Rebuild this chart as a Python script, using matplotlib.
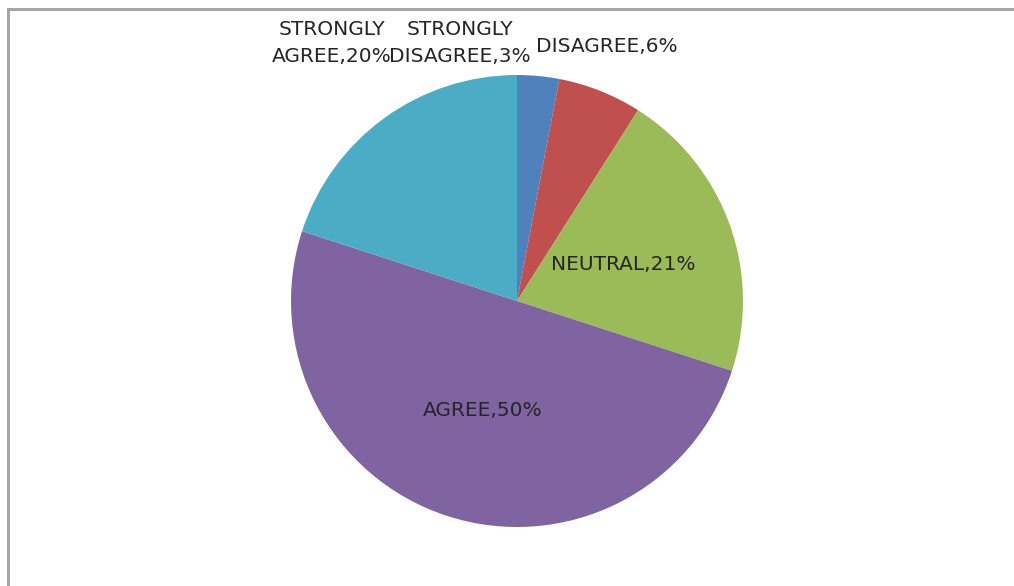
import matplotlib
matplotlib.use("Agg")
import matplotlib.pyplot as plt
from matplotlib.patches import Rectangle

# Survey responses
categories = ["STRONGLY DISAGREE", "DISAGREE", "NEUTRAL", "AGREE", "STRONGLY AGREE"]
shares = [3, 6, 21, 50, 20]
colors = ["#4F81BD", "#C0504D", "#9BBB59", "#8064A2", "#4BACC6"]

W, H = 1014, 586
fig = plt.figure(figsize=(W / 100, H / 100), dpi=100)
ax = fig.add_axes([0, 0, 1, 1])

cx, cy, r = 517, H - 301, 226
ax.pie(shares, colors=colors, startangle=90, counterclock=False,
       center=(cx, cy), radius=r, frame=True,
       wedgeprops=dict(linewidth=0))
ax.set_xlim(0, W)
ax.set_ylim(0, H)
ax.set_aspect("equal")
ax.axis("off")

# Chart area frame (left and top edges visible)
ax.add_patch(Rectangle((8, -20), W + 40, H - 9 + 20, fill=False,
                       edgecolor="#a6a6a6", linewidth=2.2))

labels = [f"{c},{v}%" for c, v in zip(categories, shares)]
font = dict(fontsize=14.5, color="#262626", family="DejaVu Sans")

def two_line(s):
    head, tail = s.split(" ", 1)
    return head + "\n" + tail

ax.text(460, H - 43, two_line(labels[0]), ha="center", va="center",
        linespacing=1.55, **font)
ax.text(607, H - 46, labels[1], ha="center", va="center", **font)
ax.text(623, H - 264, labels[2], ha="center", va="center", **font)
ax.text(483, H - 411, labels[3], ha="center", va="center", **font)
ax.text(332, H - 43, two_line(labels[4]), ha="center", va="center",
        linespacing=1.55, **font)

fig.savefig("out.png", dpi=100)
